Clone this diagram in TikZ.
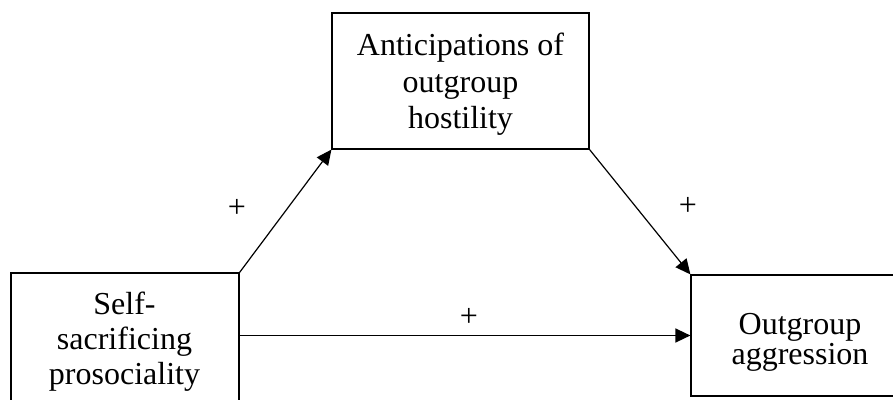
\documentclass[tikz,border=0pt]{standalone}
\usepackage{fontspec}
\setmainfont{Liberation Serif}
\usetikzlibrary{arrows.meta}
\begin{document}
\begin{tikzpicture}[x=1pt,y=-1pt,
  boxnode/.style={draw=black,line width=1.2pt,rectangle,inner sep=0pt},
  txt/.style={inner sep=0pt,align=center,anchor=north},
  plus/.style={inner sep=0pt,font=\fontsize{32}{36}\selectfont},
  conn/.style={draw=black,line width=1.2pt,-{Triangle[length=15pt,width=14pt]}}]
\useasboundingbox (0,0) rectangle (893,399);
\clip (0,0) rectangle (893,399);
\fill[white] (0,0) rectangle (893,399);
% boxes
\node[boxnode,minimum width=257pt,minimum height=136pt] (top) at (460.5,81) {};
\node[boxnode,minimum width=228pt,minimum height=135pt] (left) at (125,340.5) {};
\node[boxnode,minimum width=218pt,minimum height=121pt] (right) at (800,335.5) {};
% texts
\node[txt,font=\fontsize{32}{36.5}\selectfont] (toptext) at (460.5,33) {Anticipations of\\outgroup\\hostility};
\node[txt,font=\fontsize{32}{35}\selectfont] (lefttext) at (124.5,292) {Self-\\sacrificing\\prosociality};
\node[txt,font=\fontsize{32}{30}\selectfont] (righttext) at (800,313) {Outgroup\\aggression};
% connectors
\draw[conn] (left.north east) -- (top.south west);
\draw[conn] (top.south east) -- (right.north west);
\draw[conn,line width=1.5pt] (left.east |- right.west) -- (right.west);
% signs
\node[plus] (p1) at (237,208) {+};
\node[plus] (p2) at (688,206) {+};
\node[plus] (p3) at (469,317) {+};
\end{tikzpicture}
\end{document}
